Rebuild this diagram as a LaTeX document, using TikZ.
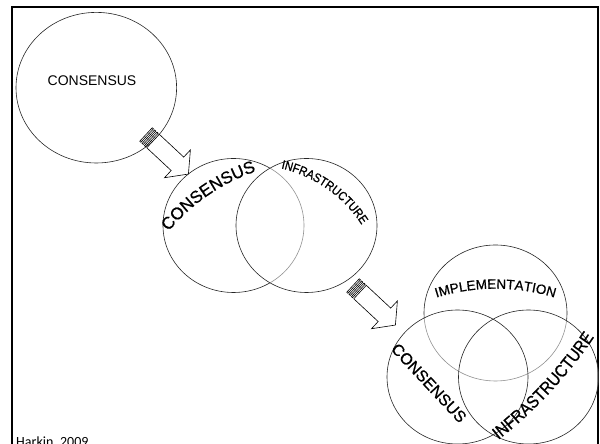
\documentclass[tikz,border=0pt]{standalone}
\usepackage{fontspec}
\setmainfont{Liberation Sans}
\newfontfamily\heavysans[FakeBold=0.8]{Liberation Sans}
\newfontfamily\narrowsans[FakeStretch=0.88,FakeBold=0.8]{Liberation Sans}
\newfontfamily\notefont{Carlito}
\usetikzlibrary{calc,decorations.text}

% fonts for the lettering that follows the circles
\newcommand\consfont{\heavysans\fontsize{17}{17}\selectfont}
\newcommand\infrafont{\narrowsans\fontsize{12.5}{12.5}\selectfont}
\newcommand\implfont{\heavysans\fontsize{13.5}{13.5}\selectfont}
\newcommand\infrabig{\narrowsans\fontsize{17.5}{17.5}\selectfont}

\tikzset{
  ring/.style={draw=black!85, line width=0.6pt},
  veil/.style={fill=white, fill opacity=0.5},
  blockarrow/.style={draw=black, line width=0.6pt, fill=white, line join=miter},
  plainlabel/.style={inner sep=0pt},
  arctext/.style={decorate, decoration={text along path, text align=center, text={#1}}},
  % striped block arrow, tail at the origin, pointing along +x
  stripedarrow/.pic={
    \draw[blockarrow] (9.6,-9.2) -- (43,-9.2) -- (43,-19) -- (58,0)
                      -- (43,19) -- (43,9.2) -- (9.6,9.2) -- cycle;
    \draw[blockarrow] (0,-9.2) rectangle (1.6,9.2);
    \draw[blockarrow] (3.2,-9.2) rectangle (4.8,9.2);
    \draw[blockarrow] (6.4,-9.2) rectangle (8,9.2);
  },
}

\begin{document}
\begin{tikzpicture}[x=1pt,y=1pt]
\clip (0,0) rectangle (600,444);

% outer frame
\draw[line width=2pt] (12,-10) -- (12,437) -- (597.5,437) -- (597.5,-10);

% centres of the circles
\coordinate (solo) at (96.3,356.3);
\coordinate (mL) at (233.5,218.5);
\coordinate (mR) at (306.5,218.5);
\coordinate (bT) at (495.5,131);
\coordinate (bL) at (457.5,67);
\coordinate (bR) at (528.5,67);

% first stage: one circle
\draw[ring] (solo) ellipse[x radius=80.3, y radius=75.3];
\node[plainlabel, font=\fontsize{14}{14}\selectfont] (consA) at (92,363) {CONSENSUS};

% second stage: two circles
\draw[ring] (mL) ellipse[x radius=70.5, y radius=67];
\fill[veil] (mR) ellipse[x radius=70.5, y radius=67];
\draw[ring] (mR) ellipse[x radius=70.5, y radius=67];

% third stage: three circles
\draw[ring] (bT) ellipse[x radius=71.5, y radius=68];
\fill[veil] (bL) ellipse[x radius=70.5, y radius=67]
            (bR) ellipse[x radius=70, y radius=67];
\draw[ring] (bL) ellipse[x radius=70.5, y radius=67];
\draw[ring] (bR) ellipse[x radius=70, y radius=67];

% arrows between the stages
\pic[rotate=-43] at (146,309.5) {stripedarrow};
\pic[rotate=-43] at (353,158.5) {stripedarrow};

% lettering along arcs
\coordinate (cCons) at (317.8,89.2);
\path[arctext={|\consfont|CONSENSUS}]
  ($(cCons)+(149.5:193.5)$) arc[start angle=149.5, end angle=99.5, radius=193.5];

\coordinate (cInfra) at (252,148.3);
\path[arctext={|\infrafont|INFRASTRUCTURE}]
  ($(cInfra)+(90:130.5)$) arc[start angle=90, end angle=20, radius=130.5];

\coordinate (cImpl) at (495.5,-44.7);
\path[arctext={|\implfont|IMPLEMENTATION}]
  ($(cImpl)+(112:200)$) arc[start angle=112, end angle=68, radius=200];

\coordinate (cInfraB) at (221.2,358.6);
\path[arctext={|\infrabig|INFRASTRUCTURE}]
  ($(cInfraB)+(303:450)$) arc[start angle=303, end angle=331, radius=450];

\node[plainlabel, rotate=-47, font=\heavysans\fontsize{16}{16}\selectfont] (consC) at (429,61) {CONSENSUS};

% credit line
\node[plainlabel, anchor=base west, font=\notefont\fontsize{14}{14}\selectfont] (credit) at (16,-2.5) {Harkin, 2009};
\end{tikzpicture}
\end{document}
